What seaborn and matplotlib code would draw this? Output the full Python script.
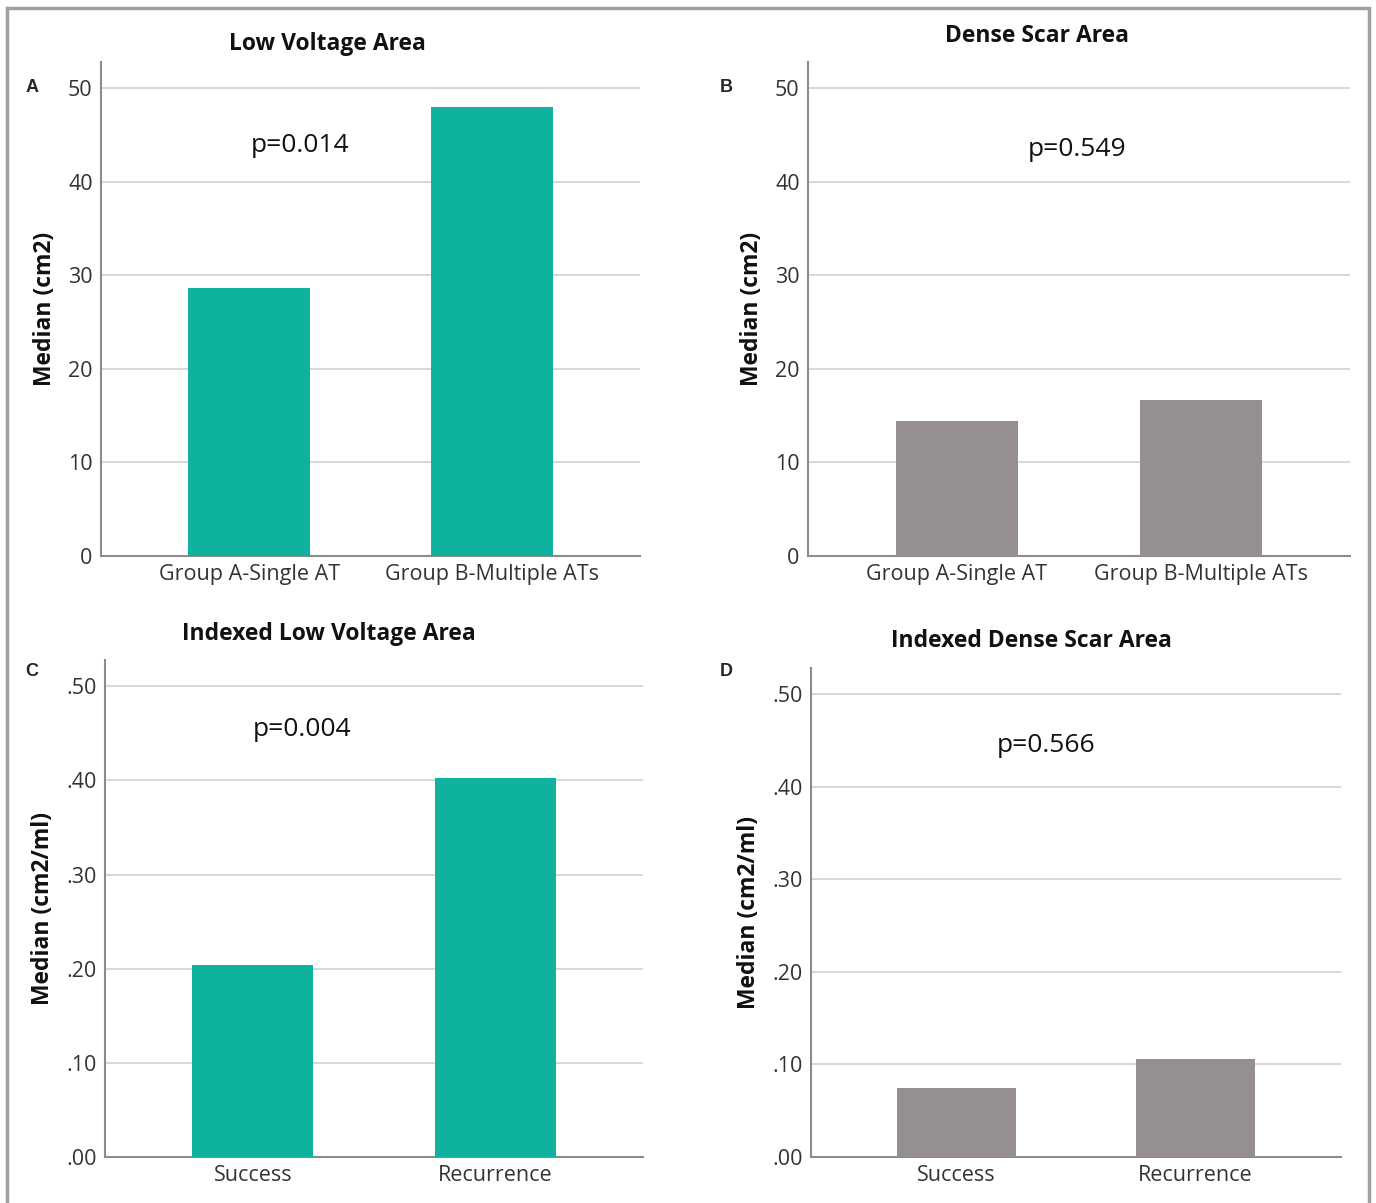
import pandas as pd
import seaborn as sns
import matplotlib.pyplot as plt
from matplotlib.patches import Rectangle

# values
groups_ab = ["Group A-Single AT", "Group B-Multiple ATs"]
groups_cd = ["Success", "Recurrence"]
low_voltage = [28.6, 48.0]
dense_scar = [14.4, 16.7]
idx_low_voltage = [0.204, 0.403]
idx_dense_scar = [0.074, 0.106]
p_values = ["p=0.014", "p=0.549", "p=0.004", "p=0.566"]
titles = ["Low Voltage Area", "Dense Scar Area",
          "Indexed Low Voltage Area", "Indexed Dense Scar Area"]
letters = ["A", "B", "C", "D"]
ylabels = ["Median (cm2)", "Median (cm2)", "Median (cm2/ml)", "Median (cm2/ml)"]
yticks_ab = [0, 10, 20, 30, 40, 50]
yticks_cd = [0.0, 0.1, 0.2, 0.3, 0.4, 0.5]
ytick_labels_ab = ["0", "10", "20", "30", "40", "50"]
ytick_labels_cd = [".00", ".10", ".20", ".30", ".40", ".50"]

TEAL = "#0fb29f"
GREY = "#958f8f"

sns.set_theme(style="white")
plt.rcParams["font.family"] = ["Open Sans", "DejaVu Sans"]

W, H = 1376, 1203
fig = plt.figure(figsize=(W / 100, H / 100), dpi=100)

# outer frame
fig.patches.append(Rectangle((7 / W, -0.01), (1369 - 7) / W, 1 - 8 / H + 0.01,
                             transform=fig.transFigure, fill=False,
                             edgecolor="#a0a0a0", linewidth=2.5))

panels = [
    dict(box=(101, 62, 640, 556), cats=groups_ab, vals=low_voltage, color=TEAL,
         ymax=52.8, ticks=yticks_ab, tl=ytick_labels_ab,
         title_xy=(327, 44), letter_xy=(32, 88), p_xy=(300, 146)),
    dict(box=(808, 62, 1350, 556), cats=groups_ab, vals=dense_scar, color=GREY,
         ymax=52.8, ticks=yticks_ab, tl=ytick_labels_ab,
         title_xy=(1037, 36), letter_xy=(726, 87), p_xy=(1077, 150)),
    dict(box=(105, 660, 643, 1157), cats=groups_cd, vals=idx_low_voltage, color=TEAL,
         ymax=0.528, ticks=yticks_cd, tl=ytick_labels_cd,
         title_xy=(329, 634), letter_xy=(32, 671), p_xy=(302, 729)),
    dict(box=(811, 668, 1341, 1157), cats=groups_cd, vals=idx_dense_scar, color=GREY,
         ymax=0.528, ticks=yticks_cd, tl=ytick_labels_cd,
         title_xy=(1031, 641), letter_xy=(726, 671), p_xy=(1046, 746)),
]

for i, pnl in enumerate(panels):
    l, t, r, b = pnl["box"]
    ax = fig.add_axes([l / W, 1 - b / H, (r - l) / W, (b - t) / H])
    df = pd.DataFrame({"group": pnl["cats"], "median": pnl["vals"]})
    sns.barplot(data=df, x="group", y="median", color=pnl["color"],
                width=0.5, saturation=1, linewidth=0, ax=ax, zorder=3)
    ax.set_xlim(-0.61, 1.61)
    ax.set_ylim(0, pnl["ymax"])
    ax.set_yticks(pnl["ticks"])
    ax.set_yticklabels(pnl["tl"])
    ax.yaxis.grid(True, color="#d4d4d4", linewidth=1.3, zorder=0)
    ax.set_axisbelow(True)
    for side in ["top", "right"]:
        ax.spines[side].set_visible(False)
    for side in ["left", "bottom"]:
        ax.spines[side].set_color("#8c8c8c")
        ax.spines[side].set_linewidth(1.5)
    ax.tick_params(axis="both", length=0, labelsize=15.5, colors="#333333", pad=6)
    ax.set_xlabel("")
    ax.set_ylabel(ylabels[i], fontsize=16.5, fontweight="bold", labelpad=8,
                  color="#111111")

    tx, ty = pnl["title_xy"]
    fig.text(tx / W, 1 - ty / H, titles[i], ha="center", va="center",
             fontsize=16.5, fontweight="bold", color="#111111")
    lx, ly = pnl["letter_xy"]
    fig.text(lx / W, 1 - ly / H, letters[i], ha="center", va="center",
             fontsize=13, fontweight="bold", family=["Liberation Sans", "DejaVu Sans"])
    px, py = pnl["p_xy"]
    fig.text(px / W, 1 - py / H, p_values[i], ha="center", va="center",
             fontsize=19, color="#111111")

fig.savefig("out.png", dpi=100)
